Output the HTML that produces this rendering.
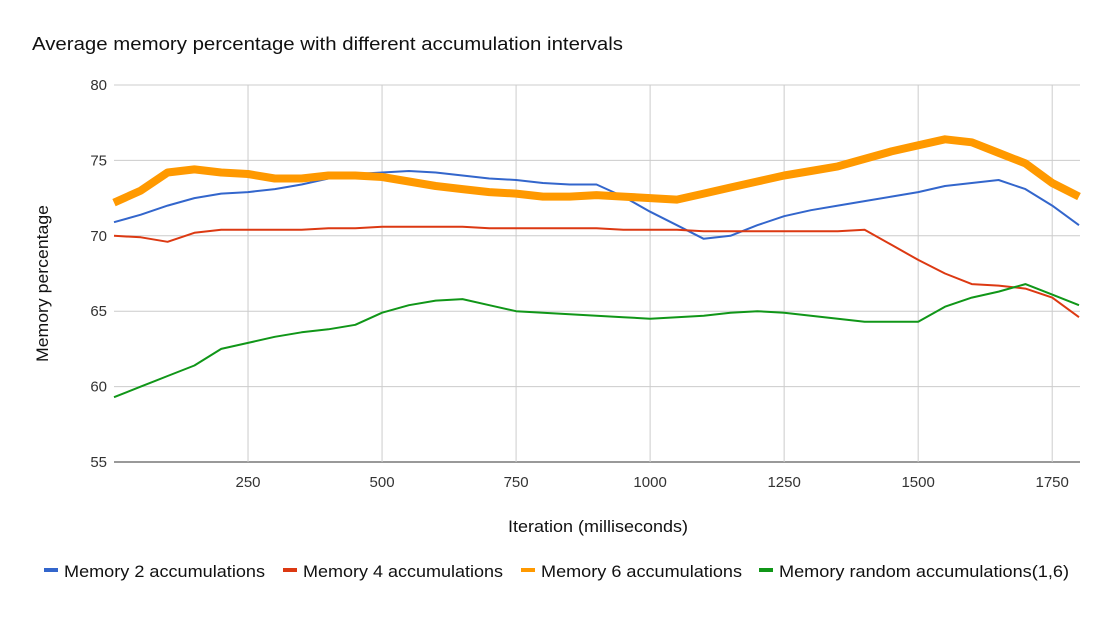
<!DOCTYPE html>
<html><head><meta charset="utf-8"><style>
body{margin:0;background:#fff;font-family:"Liberation Sans",Roboto,sans-serif;}
svg text{font-family:"Liberation Sans",sans-serif;}
</style></head><body>
<svg id="chart" width="1111" height="612" xmlns="http://www.w3.org/2000/svg">
<rect width="1111" height="612" fill="#fff"/>
<text x="32" y="50" font-size="18" fill="#111" textLength="591" lengthAdjust="spacingAndGlyphs">Average memory percentage with different accumulation intervals</text>
<g id="grid"></g><g id="series"></g>
<text x="508" y="532" font-size="17" fill="#111" textLength="180" lengthAdjust="spacingAndGlyphs">Iteration (milliseconds)</text>
<text transform="translate(48,362) rotate(-90)" font-size="17" fill="#111" textLength="157" lengthAdjust="spacingAndGlyphs">Memory percentage</text>
<g id="legend"></g>
</svg>
<script>
const xs=[0,50,100,150,200,250,300,350,400,450,500,550,600,650,700,750,800,850,900,950,1000,1050,1100,1150,1200,1250,1300,1350,1400,1450,1500,1550,1600,1650,1700,1750,1800];
const mem2=[70.9,71.4,72.0,72.5,72.8,72.9,73.1,73.4,73.8,74.1,74.2,74.3,74.2,74.0,73.8,73.7,73.5,73.4,73.4,72.6,71.6,70.7,69.8,70.0,70.7,71.3,71.7,72.0,72.3,72.6,72.9,73.3,73.5,73.7,73.1,72.0,70.7];
const mem4=[70.0,69.9,69.6,70.2,70.4,70.4,70.4,70.4,70.5,70.5,70.6,70.6,70.6,70.6,70.5,70.5,70.5,70.5,70.5,70.4,70.4,70.4,70.3,70.3,70.3,70.3,70.3,70.3,70.4,69.4,68.4,67.5,66.8,66.7,66.5,65.9,64.6];
const mem6=[72.2,73.0,74.2,74.4,74.2,74.1,73.8,73.8,74.0,74.0,73.9,73.6,73.3,73.1,72.9,72.8,72.6,72.6,72.7,72.6,72.5,72.4,72.8,73.2,73.6,74.0,74.3,74.6,75.1,75.6,76.0,76.4,76.2,75.5,74.8,73.5,72.6];
const memR=[59.3,60.0,60.7,61.4,62.5,62.9,63.3,63.6,63.8,64.1,64.9,65.4,65.7,65.8,65.4,65.0,64.9,64.8,64.7,64.6,64.5,64.6,64.7,64.9,65.0,64.9,64.7,64.5,64.3,64.3,64.3,65.3,65.9,66.3,66.8,66.1,65.4];
const yTicks=[55,60,65,70,75,80];
const xTicks=[250,500,750,1000,1250,1500,1750];
const seriesNames=["Memory 2 accumulations","Memory 4 accumulations","Memory 6 accumulations","Memory random accumulations(1,6)"];
const colors=["#3366cc","#dc3912","#ff9900","#109618"];
const X=v=>114+v*(1079-114)/1800;
const Y=v=>85+(80-v)*(462-85)/25;
const NS="http://www.w3.org/2000/svg";
const grid=document.getElementById('grid');
function mk(tag,attrs,parent){const e=document.createElementNS(NS,tag);for(const k in attrs)e.setAttribute(k,attrs[k]);parent.appendChild(e);return e;}
yTicks.forEach(t=>{
 const l=mk('line',{x1:114,x2:1080,y1:Y(t),y2:Y(t),stroke:t===55?'#333':'#ccc','stroke-width':1},grid);
 
 
 const tx=mk('text',{x:107,y:Y(t)+5,'font-size':15,fill:'#333','text-anchor':'end'},grid);tx.textContent=t;
 
 
});
xTicks.forEach(t=>{
 const l=mk('line',{x1:X(t),x2:X(t),y1:85,y2:462,stroke:'#ccc','stroke-width':1},grid);
 
 
 const tx=mk('text',{x:X(t),y:487,'font-size':15,fill:'#333','text-anchor':'middle'},grid);tx.textContent=t;
 
 
});
const sg=document.getElementById('series');
[mem2,mem4,mem6,memR].forEach((arr,i)=>{
 const d=arr.map((v,j)=>(j?'L':'M')+X(xs[j]).toFixed(1)+','+Y(v).toFixed(1)).join(' ');
 const p=mk('path',{d:d,fill:'none',stroke:colors[i],'stroke-width':i===2?8:2,'stroke-linejoin':'round'},sg);
 
 
});
const lg=document.getElementById('legend');
const lx=[44,283,521,759];
const lw=[201,200,201,290];
seriesNames.forEach((n,i)=>{
 const g=mk('g',{},lg);
 
 
 mk('rect',{x:lx[i],y:568,width:14,height:4,fill:colors[i]},g);
 const t=mk('text',{x:lx[i]+20,y:577,'font-size':17,fill:'#111',textLength:lw[i],lengthAdjust:'spacingAndGlyphs'},g);t.textContent=n;
});
</script>
</body></html>
